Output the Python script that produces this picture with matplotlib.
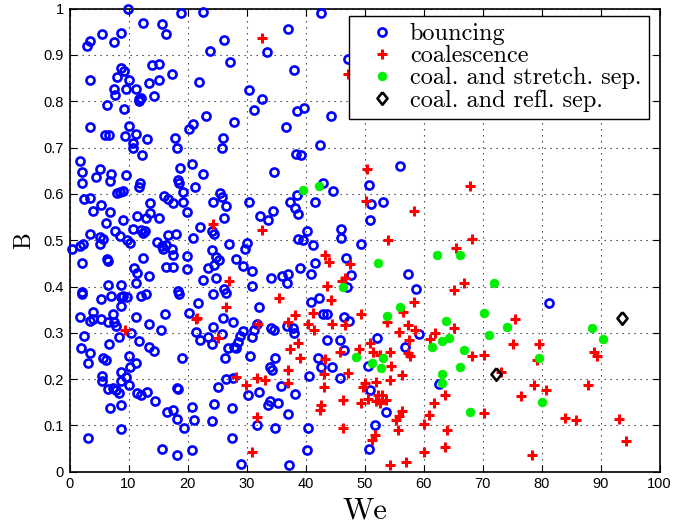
import matplotlib
matplotlib.use("Agg")
import matplotlib.pyplot as plt

# ---- data: Weber number (We) and impact parameter (B) per collision outcome ----
bounce_we = [
    9.9, 12.4, 15.7, 16.4, 18.9, 22.6, 5.45, 8.8, 7.6, 3.4, 2.9, 26.2, 23.8, 27.2, 3.5, 8.7, 9.3, 8.1,
    10.1, 7.5, 9.6, 7.7, 11.3, 11.8, 11.7, 12.1, 13.4, 13.9, 15.1, 15.2, 14.3, 17.3, 22.0, 6.4, 9.2,
    30.5, 32.6, 31.3, 3.5, 10.0, 6.0, 6.75, 9.4, 11.3, 13.2, 10.7, 10.7, 12.3, 17.8, 18.2, 20.2, 20.9,
    23.1, 27.9, 26.0, 25.9,
    42.7, 37.0, 33.4, 38.1, 47.2, 38.5, 39.8, 44.4, 36.7, 42.5, 38.4, 39.3, 56.0,
    1.8, 2.1, 5.1, 7.1, 9.6, 4.5, 2.1, 6.9, 12.0, 11.7, 18.8, 20.7, 22.6, 18.4, 18.6, 19.2, 21.3, 8.0,
    8.5, 9.0, 2.5, 3.4, 5.3, 4.0, 6.9, 6.2, 9.1, 11.4, 13.0, 13.6, 13.7, 15.1, 10.8, 12.2, 12.8, 12.4,
    7.7, 8.5, 9.7, 10.3, 3.4, 5.2, 5.7, 5.1, 2.3, 1.7, 0.4, 2.1, 6.4, 6.6, 12.4, 11.0, 11.5, 13.4, 11.3,
    6.6, 8.7, 2.1, 2.2, 5.3, 7.1, 8.7, 9.1, 9.7, 8.7, 12.2, 13.0, 4.0, 7.4, 1.8, 11.3, 16.0, 16.7, 17.5,
    19.2, 19.9, 16.7, 18.0, 14.9, 15.6, 16.4, 15.9, 17.3, 17.6, 19.9, 16.4, 17.6, 19.9, 20.9, 22.1, 24.1,
    24.5, 25.5, 25.8, 24.4, 26.6, 26.2, 30.5, 32.3, 27.1, 30.1, 29.7, 24.1, 24.9, 25.4, 24.5, 23.5, 28.2,
    29.4, 30.9, 22.7, 24.8, 24.3, 26.2, 26.5, 30.9, 32.2, 21.8, 18.4, 18.6, 20.3, 16.2,
    34.7, 42.9, 44.7, 50.7, 51.1, 53.1, 50.9, 37.4, 38.5, 41.6, 38.2, 38.7, 34.5, 33.6, 40.2, 38.7, 39.6,
    41.3, 46.0, 46.0, 49.4, 46.8, 41.6, 39.1, 41.0, 34.1, 36.1, 37.0, 36.8, 47.7, 47.1, 57.3, 58.7, 41.0,
    42.3, 43.0, 43.7, 46.6, 47.4,
    81.3,
    3.4, 4.0, 5.3, 6.6, 7.5, 7.9, 8.4, 10.4, 13.5, 15.5, 11.8, 2.5, 13.4, 14.3, 1.9, 3.4, 3.2, 5.7, 6.2,
    6.7, 10.0, 10.3, 11.3, 8.8, 9.6, 10.0, 5.5, 5.5, 6.6, 7.4, 7.9, 8.4, 8.8, 11.5, 12.1, 13.1, 14.5, 6.9,
    8.8, 8.8, 3.2, 19.0, 18.3, 18.4, 16.6, 17.5, 18.3, 19.4, 20.7, 21.1, 15.6, 18.2, 20.7, 21.4, 22.2,
    23.5, 24.3, 26.1, 25.8, 27.7, 29.4, 28.9, 28.6, 27.8, 26.9, 28.3, 26.3, 30.6, 30.9, 31.2, 31.7, 24.1,
    26.6, 27.7, 30.3, 32.2, 25.1, 24.5, 27.5, 24.1, 31.7, 27.5, 29.0,
    34.2, 34.7, 36.8, 37.9, 38.1, 59.2, 56.8, 52.2, 50.6, 50.9, 53.6, 51.7, 50.7, 62.6, 42.1, 42.7, 44.5,
    45.9, 43.7, 45.9, 46.6, 40.6, 34.8, 34.0, 34.3, 35.9, 38.3, 34.0, 33.6, 35.3, 37.1, 34.8, 40.5, 40.2,
    37.2,
]
bounce_b = [
    1.0, 0.97, 0.966, 0.945, 0.99, 0.992, 0.945, 0.947, 0.927, 0.931, 0.92, 0.932, 0.909, 0.885, 0.845,
    0.871, 0.865, 0.852, 0.846, 0.826, 0.826, 0.814, 0.826, 0.806, 0.801, 0.808, 0.84, 0.878, 0.88, 0.847,
    0.812, 0.858, 0.842, 0.792, 0.784, 0.824, 0.806, 0.781, 0.745, 0.747, 0.727, 0.727, 0.725, 0.729,
    0.718, 0.711, 0.70, 0.685, 0.72, 0.70, 0.741, 0.75, 0.769, 0.756, 0.721, 0.70,
    0.99, 0.957, 0.906, 0.868, 0.892, 0.78, 0.785, 0.768, 0.745, 0.706, 0.687, 0.683, 0.66,
    0.670, 0.648, 0.653, 0.644, 0.641, 0.637, 0.623, 0.628, 0.624, 0.614, 0.655, 0.664, 0.644, 0.631,
    0.624, 0.605, 0.614, 0.603, 0.605, 0.606, 0.588, 0.592, 0.577, 0.564, 0.56, 0.538, 0.544, 0.552,
    0.547, 0.559, 0.581, 0.547, 0.525, 0.522, 0.52, 0.515, 0.52, 0.509, 0.5, 0.493, 0.513, 0.506, 0.503,
    0.492, 0.492, 0.487, 0.48, 0.45, 0.459, 0.456, 0.461, 0.439, 0.43, 0.423, 0.408, 0.403, 0.403, 0.389,
    0.384, 0.372, 0.379, 0.377, 0.379, 0.377, 0.358, 0.379, 0.383, 0.346, 0.341, 0.335, 0.335, 0.596,
    0.588, 0.581, 0.583, 0.561, 0.511, 0.513, 0.497, 0.487, 0.49, 0.482, 0.482, 0.468, 0.465, 0.443,
    0.443, 0.437, 0.504, 0.529, 0.52, 0.513, 0.602, 0.594, 0.583, 0.573, 0.547, 0.583, 0.552, 0.492,
    0.494, 0.48, 0.479, 0.464, 0.457, 0.446, 0.441, 0.459, 0.444, 0.434, 0.415, 0.419, 0.384, 0.394,
    0.387, 0.401, 0.356, 0.364, 0.391, 0.384, 0.343, 0.341,
    0.648, 0.624, 0.607, 0.619, 0.579, 0.582, 0.544, 0.583, 0.598, 0.582, 0.569, 0.557, 0.562, 0.544,
    0.52, 0.502, 0.5, 0.49, 0.525, 0.504, 0.492, 0.461, 0.45, 0.441, 0.428, 0.418, 0.422, 0.428, 0.407,
    0.425, 0.398, 0.428, 0.394, 0.367, 0.376, 0.34, 0.34, 0.335, 0.325,
    0.365,
    0.325, 0.33, 0.33, 0.324, 0.324, 0.315, 0.292, 0.299, 0.32, 0.305, 0.282, 0.294, 0.27, 0.26, 0.268,
    0.256, 0.234, 0.246, 0.241, 0.275, 0.25, 0.227, 0.235, 0.216, 0.205, 0.187, 0.207, 0.196, 0.179,
    0.18, 0.176, 0.171, 0.196, 0.169, 0.166, 0.173, 0.153, 0.138, 0.144, 0.092, 0.073, 0.246, 0.181,
    0.178, 0.128, 0.133, 0.114, 0.095, 0.14, 0.112, 0.05, 0.037, 0.047, 0.301, 0.284, 0.291, 0.313,
    0.333, 0.297, 0.324, 0.304, 0.293, 0.281, 0.27, 0.267, 0.268, 0.246, 0.25, 0.292, 0.306, 0.32, 0.275,
    0.201, 0.203, 0.166, 0.173, 0.183, 0.147, 0.138, 0.109, 0.101, 0.073, 0.016,
    0.311, 0.306, 0.315, 0.31, 0.299, 0.297, 0.27, 0.288, 0.229, 0.176, 0.128, 0.1, 0.05, 0.189, 0.246,
    0.227, 0.227, 0.203, 0.284, 0.284, 0.263, 0.207, 0.245, 0.227, 0.22, 0.186, 0.167, 0.153, 0.145,
    0.148, 0.124, 0.094, 0.094, 0.047, 0.014,
]

coal_we = [
    32.6, 47.2, 50.4, 50.2, 58.4, 32.6, 53.9, 65.5, 43.3, 43.9, 47.5, 46.7, 46.2, 43.6, 35.5, 44.4, 58.4,
    56.6, 65.2, 38.2, 41.3, 49.4, 24.3, 27.1, 26.6, 21.6, 67.8, 68.3, 66.9, 75.5, 65.1, 75.2, 79.5, 68.3,
    70.3, 79.3, 88.9, 89.4, 73.2, 78.7, 80.8, 76.6, 87.8, 70.3, 83.9, 85.8, 93.2, 94.4, 78.4, 9.4, 21.4,
    25.2, 32.0, 28.2, 29.9, 31.8, 31.8, 31.0, 37.1, 40.5, 41.5, 44.5, 46.7, 53.8, 55.9, 57.4, 58.6, 61.9,
    61.1, 57.5, 57.3, 57.7, 51.0, 51.5, 52.6, 54.3, 49.1, 54.5, 56.3, 54.3, 52.0, 50.1, 49.8, 50.6, 52.3,
    52.9, 52.0, 52.6, 53.6, 49.4, 56.3, 55.9, 55.4, 55.6, 51.8, 51.3, 54.3, 57.1, 60.1, 60.1, 60.9, 61.7,
    63.7, 64.0, 63.7, 39.1, 37.4, 38.7, 45.8, 43.3, 43.2, 47.2, 43.2, 46.4, 46.3, 42.6, 42.5, 37.0, 37.0,
    33.1,
]
coal_b = [
    0.936, 0.859, 0.654, 0.585, 0.564, 0.522, 0.5, 0.484, 0.468, 0.453, 0.448, 0.418, 0.412, 0.401, 0.376,
    0.371, 0.367, 0.346, 0.392, 0.338, 0.342, 0.34, 0.534, 0.411, 0.356, 0.331, 0.616, 0.503, 0.407, 0.33,
    0.31, 0.275, 0.275, 0.25, 0.253, 0.241, 0.259, 0.25, 0.215, 0.187, 0.176, 0.163, 0.187, 0.127, 0.115,
    0.112, 0.113, 0.067, 0.035, 0.307, 0.33, 0.288, 0.32, 0.205, 0.187, 0.203, 0.119, 0.043, 0.324, 0.32,
    0.306, 0.318, 0.317, 0.324, 0.301, 0.317, 0.306, 0.299, 0.287, 0.284, 0.256, 0.25, 0.277, 0.259,
    0.252, 0.258, 0.265, 0.229, 0.209, 0.198, 0.194, 0.191, 0.184, 0.158, 0.166, 0.166, 0.153, 0.148,
    0.155, 0.148, 0.131, 0.121, 0.112, 0.09, 0.079, 0.068, 0.014, 0.022, 0.042, 0.102, 0.122, 0.148,
    0.166, 0.09, 0.054, 0.245, 0.266, 0.277, 0.258, 0.243, 0.212, 0.214, 0.184, 0.155, 0.094, 0.145,
    0.133, 0.22, 0.191, 0.198,
]

stretch_we = [
    39.5, 42.3, 62.3, 66.2, 52.3, 46.4, 56.0, 53.8, 63.8, 71.9, 70.3, 74.2, 71.1, 88.6, 90.5, 66.9, 79.6,
    66.2, 80.0, 67.9, 64.3, 63.1, 61.4, 53.2, 51.2, 52.8, 48.5, 63.2, 63.2,
]
stretch_b = [
    0.608, 0.617, 0.468, 0.468, 0.45, 0.398, 0.356, 0.336, 0.326, 0.407, 0.342, 0.312, 0.295, 0.31, 0.286,
    0.263, 0.245, 0.227, 0.151, 0.13, 0.288, 0.282, 0.27, 0.246, 0.235, 0.225, 0.248, 0.21, 0.191,
]

refl_we = [93.6, 72.3]
refl_b = [0.333, 0.211]

labels = ["bouncing", "coalescence", "coal. and stretch. sep.", "coal. and refl. sep."]
x_ticks = list(range(0, 101, 10))
y_ticks = [i / 10 for i in range(11)]
y_ticklabels = ["0", "0.1", "0.2", "0.3", "0.4", "0.5", "0.6", "0.7", "0.8", "0.9", "1"]

# ---- figure ----
W, H = 673, 529
fig = plt.figure(figsize=(W / 100, H / 100), dpi=100)
ax = fig.add_axes([69.5 / W, 1 - 471.7 / H, (659.5 - 69.5) / W, (471.7 - 8.7) / H])

diamond = [(0, 1), (0.8, 0), (0, -1), (-0.8, 0), (0, 1)]

h1, = ax.plot(bounce_we, bounce_b, linestyle="none", marker="o", ms=5.8, mew=1.9,
              mec="#0000ff", mfc="none", clip_on=False, zorder=3)
h2, = ax.plot(coal_we, coal_b, linestyle="none", marker="+", ms=6.5, mew=2.2,
              mec="#ff0000", clip_on=False, zorder=4)
h3, = ax.plot(stretch_we, stretch_b, linestyle="none", marker="o", ms=6.3, mew=0.5,
              mec="#00ee00", mfc="#00ee00", clip_on=False, zorder=5)
h4, = ax.plot(refl_we, refl_b, linestyle="none", marker=diamond, ms=9, mew=1.9,
              mec="black", mfc="none", clip_on=False, zorder=6)

ax.set_xlim(0, 100)
ax.set_ylim(0, 1)
ax.set_xticks(x_ticks)
ax.set_yticks(y_ticks)
ax.set_yticklabels(y_ticklabels)

for lab in ax.get_xticklabels() + ax.get_yticklabels():
    lab.set_fontfamily("Liberation Sans")
    lab.set_fontsize(10.5)

ax.tick_params(direction="in", length=5, width=0.8, top=True, right=True, pad=4, colors="black")
for s in ax.spines.values():
    s.set_linewidth(1.2)
    s.set_color("black")

ax.grid(True, color="0.2", linewidth=0.8, linestyle=(0, (1.2, 4.2)))
ax.set_axisbelow(True)

ax.set_xlabel("We", fontfamily="cmr10", fontsize=22, labelpad=4)
ax.set_ylabel("B", fontfamily="cmr10", fontsize=17, labelpad=6)

leg = ax.legend([h1, h2, h3, h4], labels, loc="upper left",
                bbox_to_anchor=(349 / W, 1 - 15.7 / H), bbox_transform=fig.transFigure,
                borderaxespad=0, prop={"family": "cmr10", "size": 17.5},
                handlelength=2.1, handletextpad=0.1, borderpad=0.3, labelspacing=0.0,
                numpoints=1, fancybox=False, framealpha=1, edgecolor="black")
leg.get_frame().set_linewidth(1.0)
leg.set_zorder(10)

fig.savefig("out.png", dpi=100)
